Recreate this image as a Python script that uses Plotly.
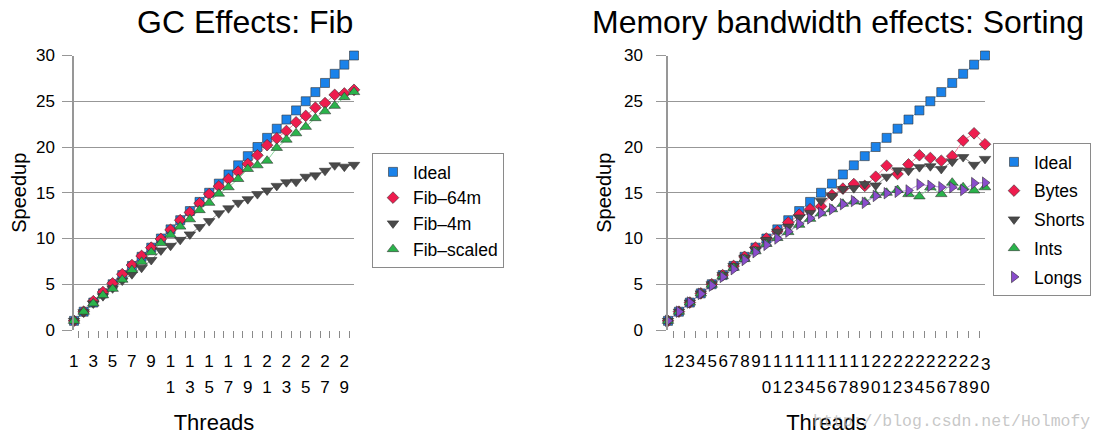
import plotly.graph_objects as go

# ---------------- data ----------------
threads = list(range(1, 31))

# GC Effects: Fib
fib_ideal = [1, 2, 3, 4, 5, 6, 7, 8, 9, 10, 11, 12, 13, 14, 15,
             16, 17, 18, 19, 20, 21, 22, 23, 24, 25, 26, 27, 28, 29, 30]
fib_64m = [1.0, 2.0, 3.15, 4.15, 5.1, 6.1, 7.1, 8.1, 9.0, 9.95, 10.95, 12.0, 12.85, 13.85, 14.85,
           15.7, 16.5, 17.3, 18.15, 19.1, 20.2, 20.95, 21.75, 22.7, 23.4, 24.3, 24.8, 25.7, 25.85, 26.25]
fib_4m = [1.0, 1.95, 2.9, 3.7, 4.55, 5.4, 6.1, 6.8, 7.65, 8.7, 9.2, 9.85, 10.45, 11.25, 11.9,
          12.75, 13.3, 13.9, 14.3, 14.85, 15.25, 15.75, 16.15, 16.2, 16.75, 16.9, 17.4, 18.0, 17.85, 18.05]
fib_scaled = [1.0, 2.0, 2.9, 3.8, 4.5, 5.5, 6.55, 7.45, 8.5, 9.5, 10.4, 11.3, 12.1, 13.1, 13.9,
              14.9, 15.6, 16.5, 17.6, 18.0, 18.5, 19.9, 20.8, 21.5, 22.2, 23.15, 23.9, 24.5, 25.45, 26.0]

# Memory bandwidth effects: Sorting
sort_ideal = [1, 2, 3, 4, 5, 6, 7, 8, 9, 10, 11, 12, 13, 14, 15,
              16, 17, 18, 19, 20, 21, 22, 23, 24, 25, 26, 27, 28, 29, 30]
sort_bytes = [1.0, 2.0, 3.0, 4.0, 5.0, 6.0, 7.0, 8.0, 9.0, 10.0, 10.8, 11.75, 12.6, 13.2, 13.5,
              14.75, 15.45, 15.95, 15.75, 16.75, 17.95, 17.05, 18.1, 19.1, 18.8, 18.5, 19.0, 20.7, 21.5, 20.3]
sort_shorts = [1.0, 2.0, 3.0, 4.0, 5.0, 6.0, 7.0, 7.9, 8.8, 9.85, 10.75, 11.3, 12.3, 12.8, 14.1,
               14.65, 15.4, 15.5, 15.95, 15.8, 16.75, 17.45, 17.4, 17.8, 17.9, 17.6, 18.4, 18.9, 18.05, 18.7]
sort_ints = [1.0, 2.0, 3.0, 4.0, 4.95, 5.9, 6.8, 7.75, 8.6, 9.4, 10.05, 10.7, 11.5, 12.15, 12.75,
             13.2, 13.8, 14.05, 14.0, 14.75, 15.0, 15.3, 14.85, 14.6, 15.6, 14.85, 16.1, 15.6, 15.25, 15.6]
sort_longs = [1.0, 2.0, 3.0, 3.95, 4.85, 5.8, 6.65, 7.65, 8.5, 9.3, 10.0, 10.75, 11.6, 12.2, 12.8,
              13.2, 13.75, 14.1, 13.9, 14.65, 14.95, 15.1, 15.25, 15.9, 15.75, 15.6, 15.6, 15.3, 16.05, 16.1]

# tick marks sit between threads; first-row digits belong to thread (tick - 0.5)
tick_marks = [1.5, 2.5, 3.5, 4.5, 5.5, 6.5, 7.5, 8.5, 9.5, 10.5, 11.5, 12.5, 13.5, 14.5, 15.5,
              16.5, 17.5, 18.5, 19.5, 20.5, 21.5, 22.5, 23.5, 24.5, 25.5, 26.5, 27.5, 28.5, 29.5]
fib_tick_row1 = ["1", "", "3", "", "5", "", "7", "", "9", "", "1", "", "1", "", "1",
                 "", "1", "", "1", "", "2", "", "2", "", "2", "", "2", "", "2"]
sort_tick_row1 = ["1", "2", "3", "4", "5", "6", "7", "8", "9", "1", "1", "1", "1", "1", "1",
                  "1", "1", "1", "1", "2", "2", "2", "2", "2", "2", "2", "2", "2", "2"]
sort_last_row1 = "3"   # label for thread 30 (no tick mark after it)

fib_tick_vals2 = [11, 13, 15, 17, 19, 21, 23, 25, 27, 29]
fib_tick_row2 = ["1", "3", "5", "7", "9", "1", "3", "5", "7", "9"]
sort_tick_vals2 = [10, 11, 12, 13, 14, 15, 16, 17, 18, 19, 20, 21, 22, 23, 24,
                   25, 26, 27, 28, 29, 30]
sort_tick_row2 = ["0", "1", "2", "3", "4", "5", "6", "7", "8", "9", "0",
                  "1", "2", "3", "4", "5", "6", "7", "8", "9", "0"]

# ---------------- styles ----------------
FONT = "Liberation Sans, Arial, Helvetica, sans-serif"
GRID = "#979797"
W, H = 1094, 432      # page body adds an 8px offset inside the 1102x440 window
OFF = 8


def px(x):
    return (x - OFF) / W


def py(y):
    return (H - (y - OFF)) / H


styles = {
    "ideal": dict(color="#1a82ea", line="#6fb3f2", symbol="square", size=9),
    "red": dict(color="#ee1c4e", line="#f47c98", symbol="diamond", size=9),
    "gray": dict(color="#4a4a4a", line="#8e8e8e", symbol="triangle-down", size=10),
    "green": dict(color="#2ab34b", line="#8ad69c", symbol="triangle-up", size=10),
    "purple": dict(color="#8a4dcc", line="#b78ee0", symbol="triangle-right", size=10),
}

series = [
    ("Ideal", fib_ideal, "ideal", "x", "y", "legend", "a1"),
    ("Fib–64m", fib_64m, "red", "x", "y", "legend", "a2"),
    ("Fib–4m", fib_4m, "gray", "x", "y", "legend", "a3"),
    ("Fib–scaled", fib_scaled, "green", "x", "y", "legend", "a4"),
    ("Ideal", sort_ideal, "ideal", "x2", "y2", "legend2", "b1"),
    ("Bytes", sort_bytes, "red", "x2", "y2", "legend2", "b2"),
    ("Shorts", sort_shorts, "gray", "x2", "y2", "legend2", "b3"),
    ("Ints", sort_ints, "green", "x2", "y2", "legend2", "b4"),
    ("Longs", sort_longs, "purple", "x2", "y2", "legend2", "b5"),
]

fig = go.Figure()

# connecting lines first (beneath all markers)
for name, ys, st, xa, ya, lg, grp in series:
    s = styles[st]
    fig.add_trace(go.Scatter(x=threads, y=ys, name=name, mode="lines", xaxis=xa, yaxis=ya,
                             showlegend=False, hoverinfo="skip", cliponaxis=False,
                             line=dict(color=s["line"], width=1)))
# markers (these carry the legend entries)
for name, ys, st, xa, ya, lg, grp in series:
    s = styles[st]
    fig.add_trace(go.Scatter(x=threads, y=ys, name=name, mode="markers", xaxis=xa, yaxis=ya,
                             legend=lg, legendgroup=grp, cliponaxis=False,
                             marker=dict(symbol=s["symbol"], size=s["size"], color=s["color"],
                                         line=dict(color="#333333", width=0.6))))

# empty carriers so the second row of tick labels is drawn
fig.add_trace(go.Scatter(x=threads, y=[None] * len(threads), xaxis="x3", yaxis="y",
                         mode="markers", showlegend=False, hoverinfo="skip"))
fig.add_trace(go.Scatter(x=threads, y=[None] * len(threads), xaxis="x4", yaxis="y2",
                         mode="markers", showlegend=False, hoverinfo="skip"))

# plot-area domains (reference pixels -> paper)
left_px = (74, 354)
right_px = (668, 985)
left_dom = [px(left_px[0]), px(left_px[1])]
right_dom = [px(right_px[0]), px(right_px[1])]
y_dom = [py(330), py(55.5)]

tickfont = dict(family=FONT, size=17, color="black")


def xmain(domain, anchor, text, pxwidth):
    step = pxwidth / 29.0
    return dict(domain=domain, anchor=anchor, range=[1, 30], showgrid=False, zeroline=False,
                showline=False, tickmode="array", tickvals=tick_marks, ticktext=text,
                ticks="outside", ticklen=7, tickcolor="#8a8a8a", tickwidth=1,
                tickangle=0, automargin=False, ticklabelshift=int(round(-step / 2)),
                tickfont=tickfont, ticklabelstandoff=9,
                title=dict(text="Threads", font=dict(family=FONT, size=22, color="black"),
                           standoff=44))


def xsecond(over, vals, text, standoff):
    return dict(overlaying=over, anchor="free", position=py(375), range=[1, 30],
                showgrid=False, zeroline=False, showline=False, tickmode="array",
                tickvals=vals, ticktext=text, ticks="", tickangle=0, automargin=False,
                tickfont=tickfont, ticklabelstandoff=standoff)


def ymain(anchor, standoff):
    return dict(domain=y_dom, anchor=anchor, range=[0, 30], tickmode="array",
                tickvals=[0, 5, 10, 15, 20, 25, 30], showgrid=True, gridcolor=GRID, gridwidth=1,
                zeroline=False, showline=True, linecolor=GRID, linewidth=1.5,
                ticks="outside", ticklen=10, tickcolor=GRID, tickwidth=1, automargin=False,
                tickfont=tickfont, ticklabelstandoff=standoff,
                title=dict(text="Speedup", font=dict(family=FONT, size=20, color="black"),
                           standoff=7))


legend_common = dict(bordercolor="#8a8a8a", borderwidth=1, bgcolor="white",
                     font=dict(family=FONT, size=17.5, color="black"),
                     xanchor="left", yanchor="top", itemwidth=30, traceorder="grouped")

fig.update_layout(
    width=W, height=H,
    margin=dict(l=0, r=0, t=0, b=0, autoexpand=False),
    paper_bgcolor="white", plot_bgcolor="white",
    font=dict(family=FONT, color="black"),
    xaxis=xmain(left_dom, "y", fib_tick_row1, left_px[1] - left_px[0]),
    xaxis3=xsecond("x", fib_tick_vals2, fib_tick_row2, 0),
    yaxis=ymain("x", 4),
    xaxis2=xmain(right_dom, "y2", sort_tick_row1, right_px[1] - right_px[0]),
    xaxis4=xsecond("x2", sort_tick_vals2, sort_tick_row2, 0),
    yaxis2=ymain("x2", 10),
    legend=dict(x=px(372), y=py(153), tracegroupgap=0, **legend_common),
    legend2=dict(x=px(993), y=py(143), tracegroupgap=3, **legend_common),
    showlegend=True,
)

# label of thread 30 on the sorting chart (it has no tick mark to its right)
fig.add_annotation(text=sort_last_row1, xref="x2", yref="paper", x=30, y=py(364.5),
                   xanchor="center", yanchor="middle", showarrow=False, font=tickfont)

fig.add_annotation(text="GC Effects: Fib", xref="paper", yref="paper",
                   x=px(245), y=py(22), xanchor="center", yanchor="middle",
                   showarrow=False, font=dict(family=FONT, size=32, color="black"))
fig.add_annotation(text="Memory bandwidth effects: Sorting", xref="paper", yref="paper",
                   x=px(838), y=py(22), xanchor="center", yanchor="middle",
                   showarrow=False, font=dict(family=FONT, size=32, color="black"))
fig.add_annotation(text="http://blog.csdn.net/Holmofy", xref="paper", yref="paper",
                   x=px(1092), y=py(421), xanchor="right", yanchor="middle",
                   showarrow=False,
                   font=dict(family="Liberation Mono, DejaVu Sans Mono, monospace", size=16.5,
                             color="rgba(185,185,185,0.8)"))

fig.write_html("out.html")
